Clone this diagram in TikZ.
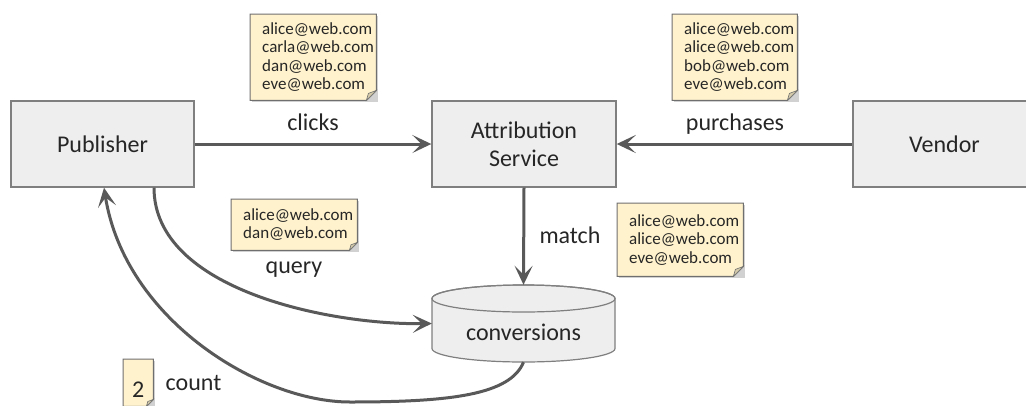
\documentclass[tikz,border=0pt]{standalone}
\usepackage{fontspec}
\setmainfont{Carlito}
\usetikzlibrary{arrows.meta,backgrounds}
\definecolor{boxfill}{HTML}{EEEEEE}
\definecolor{boxdraw}{HTML}{7F7F7F}
\definecolor{arr}{HTML}{595959}
\definecolor{notefill}{HTML}{FFF2CC}
\definecolor{notedraw}{HTML}{6F6F6F}
\definecolor{foldfill}{HTML}{D6CCAB}
\definecolor{txt}{HTML}{262626}
\begin{document}
\begin{tikzpicture}[x=1pt,y=-1pt,
  box/.style={draw=boxdraw, line width=1.4pt, fill=boxfill, minimum width=183pt, minimum height=86pt,
    text=txt, font=\fontsize{24}{28}\selectfont, align=center, inner sep=0pt},
  notebox/.style={anchor=north west, inner xsep=12pt, inner ysep=0pt, align=left, text=txt,
    font=\fontsize{17}{18.5}\selectfont},
  lbl/.style={anchor=base, text=txt, font=\fontsize{24}{28}\selectfont, inner sep=0pt},
  conn/.style={draw=arr, line width=3pt, -{Stealth[length=19pt,width=18pt,inset=9pt]}},
  connplain/.style={draw=arr, line width=3pt}]
\useasboundingbox (0,0) rectangle (1026,405);
\begin{scope}
\clip (0,0) rectangle (1026,405);
% boxes
\node[box] (pub) at (102.5,144) {Publisher};
\node[box, minimum width=184pt] (attr) at (524,144) {Attribution\\Service};
\node[box] (vend) at (944.5,144) {Vendor};
% cylinder node
\node[minimum width=183pt, minimum height=77pt, inner sep=0pt, text height=33pt, text depth=0pt,
  text=txt, font=\fontsize{24}{28}\selectfont] (conv) at (523.5,323.5) {conversions};
% notes
\node[notebox, text width=102pt, minimum height=86pt] (n1) at (250,14)
  {alice@web.com\\carla@web.com\\dan@web.com\\eve@web.com};
\node[notebox, text width=101pt, minimum height=86pt] (n2) at (672,14)
  {alice@web.com\\alice@web.com\\bob@web.com\\eve@web.com};
\node[notebox, text width=102pt, minimum height=73pt] (n3) at (617,203)
  {alice@web.com\\alice@web.com\\eve@web.com};
\node[notebox, text width=102pt, minimum height=51pt] (n4) at (231,199)
  {alice@web.com\\dan@web.com};
\node[anchor=north west, minimum width=30pt, minimum height=47pt, inner sep=0pt, text height=30pt, text depth=0pt,
  text=txt, font=\fontsize{24}{28}\selectfont] (n5) at (123,359) {2};
% labels
\node[lbl] (lclicks) at (313,130) {clicks};
\node[lbl] (lpurch) at (735,130) {purchases};
\node[lbl] (lmatch) at (570,243) {match};
\node[lbl] (lquery) at (294,273) {query};
\node[lbl] (lcount) at (193.5,390) {count};
% connectors
\draw[conn] (pub.east) -- (attr.west);
\draw[conn] (vend.west) -- (attr.east);
\draw[conn] (attr.south) -- (conv.north);
\draw[conn] (pub.south -| 154,0) .. controls (154,290) and (330,325) .. (conv.west);
\draw[conn] (conv.south) .. controls (510,395) and (450,402) .. (350,402)
  .. controls (260,402) and (125,320) .. (pub.south -| 104,0);
\end{scope}
\begin{scope}[on background layer]
% cylinder
\filldraw[fill=boxfill, draw=boxdraw, line width=1.2pt]
  (432,298.5) -- (432,348.5) arc[start angle=180, end angle=360, x radius=91.5pt, y radius=13.5pt]
  -- (615,298.5) arc[start angle=0, end angle=180, x radius=91.5pt, y radius=13.5pt] -- cycle;
\draw[draw=boxdraw, line width=1.2pt] (523.5,298.5) ellipse[x radius=91.5pt, y radius=13.5pt];
% notes
\foreach \n/\d in {n1/10pt,n2/10pt,n3/10pt,n4/8pt,n5/7pt}{
  \fill[black, opacity=.18] ([shift={(2pt,-2pt)}]\n.north west) -- ([shift={(2pt,-2pt)}]\n.north east)
    -- ([shift={(2pt,-2pt)}]\n.south east) -- ([shift={(2pt,-2pt)}]\n.south west) -- cycle;
  \filldraw[fill=notefill, draw=notedraw, line width=1pt] (\n.north west) -- (\n.north east)
    -- ([yshift=\d]\n.south east) -- ([xshift=-\d]\n.south east) -- (\n.south west) -- cycle;
  \filldraw[fill=foldfill, draw=notedraw, line width=.6pt] ([yshift=\d]\n.south east)
    .. controls ([xshift=-0.4*\d, yshift=0.75*\d]\n.south east) .. ([xshift=-0.8*\d, yshift=0.7*\d]\n.south east)
    -- ([xshift=-\d]\n.south east) -- cycle;
}
\end{scope}
\end{tikzpicture}
\end{document}
